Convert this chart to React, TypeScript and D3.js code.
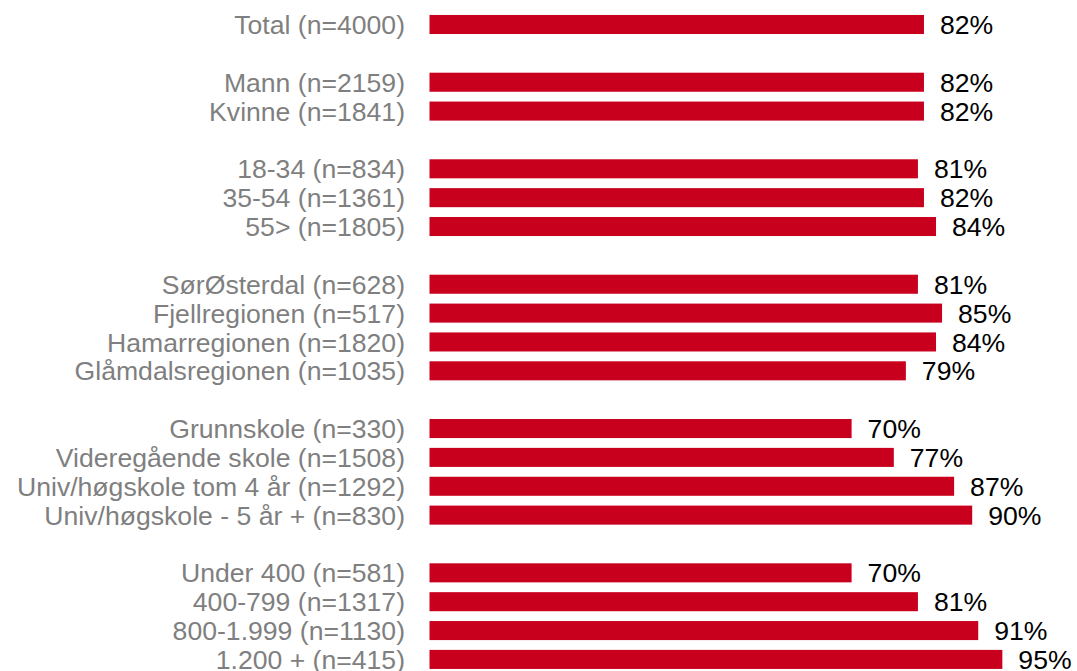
import React from "react";
import * as d3 from "d3";

const categories: string[] = [
  "Total (n=4000)",
  "",
  "Mann (n=2159)",
  "Kvinne (n=1841)",
  "",
  "18-34 (n=834)",
  "35-54 (n=1361)",
  "55> (n=1805)",
  "",
  "SørØsterdal (n=628)",
  "Fjellregionen (n=517)",
  "Hamarregionen (n=1820)",
  "Glåmdalsregionen (n=1035)",
  "",
  "Grunnskole (n=330)",
  "Videregående skole (n=1508)",
  "Univ/høgskole tom 4 år (n=1292)",
  "Univ/høgskole - 5 år + (n=830)",
  "",
  "Under 400 (n=581)",
  "400-799 (n=1317)",
  "800-1.999 (n=1130)",
  "1.200 + (n=415)",
];

const values: (number | null)[] = [
  82, null, 82, 82, null, 81, 82, 84, null, 81, 85, 84, 79, null, 70, 77, 87, 90, null, 70, 81, 91, 95,
];

const W = 1077;
const H = 671;
const step = 28.86;
const y0 = 24.5 - step / 2;

export default function App() {
  const keys = categories.map((_, i) => String(i));
  const y = d3
    .scaleBand<string>()
    .domain(keys)
    .range([y0, y0 + step * keys.length])
    .paddingInner(0.34)
    .paddingOuter(0.17);
  const x = d3.scaleLinear().domain([0, 100]).range([429.5, 429.5 + 603]);
  const font = "'Liberation Sans', Arial, sans-serif";
  return (
    <svg
      width={W}
      height={H}
      style={{ position: "absolute", left: 0, top: 0, display: "block" }}
    >
      <rect width={W} height={H} fill="#ffffff" />
      {categories.map((c, i) => {
        const v = values[i];
        if (v === null || c === "") return null;
        const yy = y(String(i))!;
        const bh = y.bandwidth();
        const cy = yy + bh / 2;
        return (
          <g key={i}>
            <text
              x={405}
              y={cy}
              dy="0.36em"
              textAnchor="end"
              fill="#7f7f7f"
              fontFamily={font}
              fontSize={26.6}
            >
              {c}
            </text>
            <rect x={x(0)} y={yy} width={x(v) - x(0)} height={bh} fill="#c8001e" />
            <text
              x={x(v) + 16}
              y={cy}
              dy="0.36em"
              fill="#000000"
              fontFamily={font}
              fontSize={26.6}
            >
              {v}%
            </text>
          </g>
        );
      })}
    </svg>
  );
}
